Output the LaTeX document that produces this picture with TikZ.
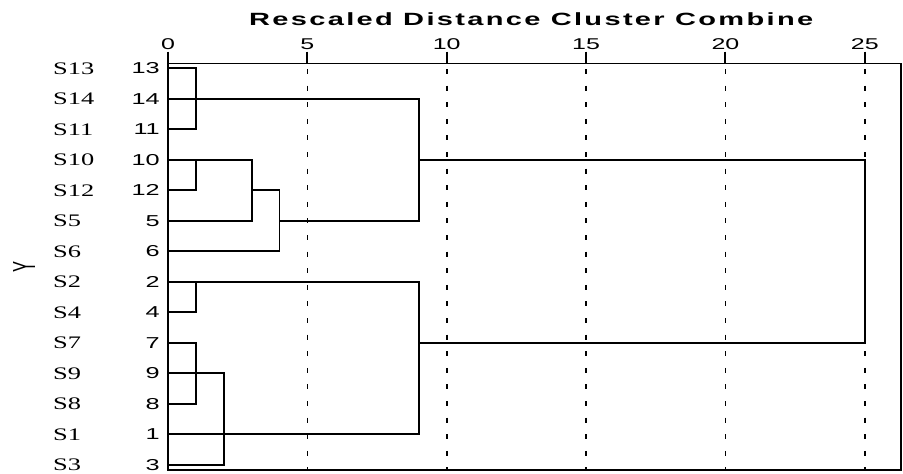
\documentclass[tikz,border=0pt]{standalone}
\usepackage{fontspec}
\usepackage{graphicx}
\setmainfont{Liberation Serif}
\setsansfont{Liberation Sans}
\begin{document}
\begin{tikzpicture}[x=1pt,y=-1pt,
  lab/.style={inner sep=0pt,anchor=base west,font=\fontsize{17.6}{17.6}\selectfont},
  num/.style={inner sep=0pt,anchor=base east,font=\fontsize{15.8}{15.8}\sffamily},
  tick/.style={inner sep=0pt,anchor=base,font=\fontsize{15.6}{15.6}\sffamily},
  dend/.style={line width=1.9pt,line cap=rect},
  grid/.style={line width=1.7pt,dash pattern=on 5pt off 11.6pt},
  frame/.style={line width=1.9pt}]
\useasboundingbox (0,0) rectangle (903,474);
\newcommand{\hs}[1]{\scalebox{1.6}[1]{#1}}
% x positions of distances
\def\xa{168}
\def\xb{195.9}
\def\xc{223.7}
\def\xd{251.6}
\def\xe{279.5}
\def\xf{418.8}
\def\xg{864.75}
% title
\node[inner sep=0pt,anchor=base west,font=\fontsize{17.7}{17.7}\sffamily\bfseries] (title) at (249,25)
  {\resizebox{564pt}{\height}{\addfontfeature{LetterSpace=8}Rescaled Distance Cluster Combine}};
% Y label
\node[inner sep=0pt,font=\fontsize{15}{15}\sffamily] (ylab) at (24,266.5)
  {\resizebox{22pt}{11pt}{\rotatebox{90}{Y}}};
% rows
\foreach \s/\r in {13/0,14/1,11/2,10/3,12/4,5/5,6/6,2/7,4/8,7/9,9/10,8/11,1/12,3/13}{
  \pgfmathsetmacro\yy{68.3+30.5*\r}
  \node[lab] (s\s) at (53,\yy+5.8) {\scalebox{1.5}[1]{S\s}};
  \node[num] (n\s) at (160,\yy+5.6) {\hs{\s}};
  \coordinate (l\s) at (\xa,\yy);
  \coordinate (b\s) at (\xb,\yy);
  \coordinate (c\s) at (\xc,\yy);
  \coordinate (d\s) at (\xd,\yy);
  \coordinate (e\s) at (\xe,\yy);
  \coordinate (f\s) at (\xf,\yy);
  \coordinate (g\s) at (\xg,\yy);
}
% grid dashed lines & ticks
\foreach \v in {0,5,10,15,20,25}{
  \pgfmathsetmacro\xx{168+27.87*\v}
  \node[tick] (t\v) at (\xx,49.5) {\hs{\v}};
  \draw[frame] (\xx,51.5) -- (\xx,63.5);
}
\foreach \v in {5,10,15,20,25}{
  \pgfmathsetmacro\xx{168+27.87*\v}
  \draw[grid] (\xx,69) -- (\xx,470);
}
% frame
\draw[frame] (168,63.5) rectangle (901,470);
% cluster 13,14,11
\draw[dend] (l13) -- (b13) -- (b11) -- (l11);
\draw[dend] (l14) -- (f14);
% cluster 10,12,5,6
\draw[dend] (l12) -- (b12) -- (b10);
\draw[dend] (l10) -- (d10) -- (d5) -- (l5);
\draw[dend] (d12) -- (e12);
\draw[dend] (l6) -- (e6) -- (e12);
\draw[dend] (e5) -- (f5) -- (f14);
\draw[dend] (f10) -- (g10);
% cluster 2,4
\draw[dend] (l4) -- (b4) -- (b2);
\draw[dend] (l2) -- (f2);
% cluster 7,9,8,1,3
\draw[dend] (l7) -- (b7) -- (b8) -- (l8);
\draw[dend] (l9) -- (c9) -- (c3) -- (l3);
\draw[dend] (l1) -- (f1) -- (f2);
\draw[dend] (f7) -- (g7) -- (g10);
\end{tikzpicture}
\end{document}
